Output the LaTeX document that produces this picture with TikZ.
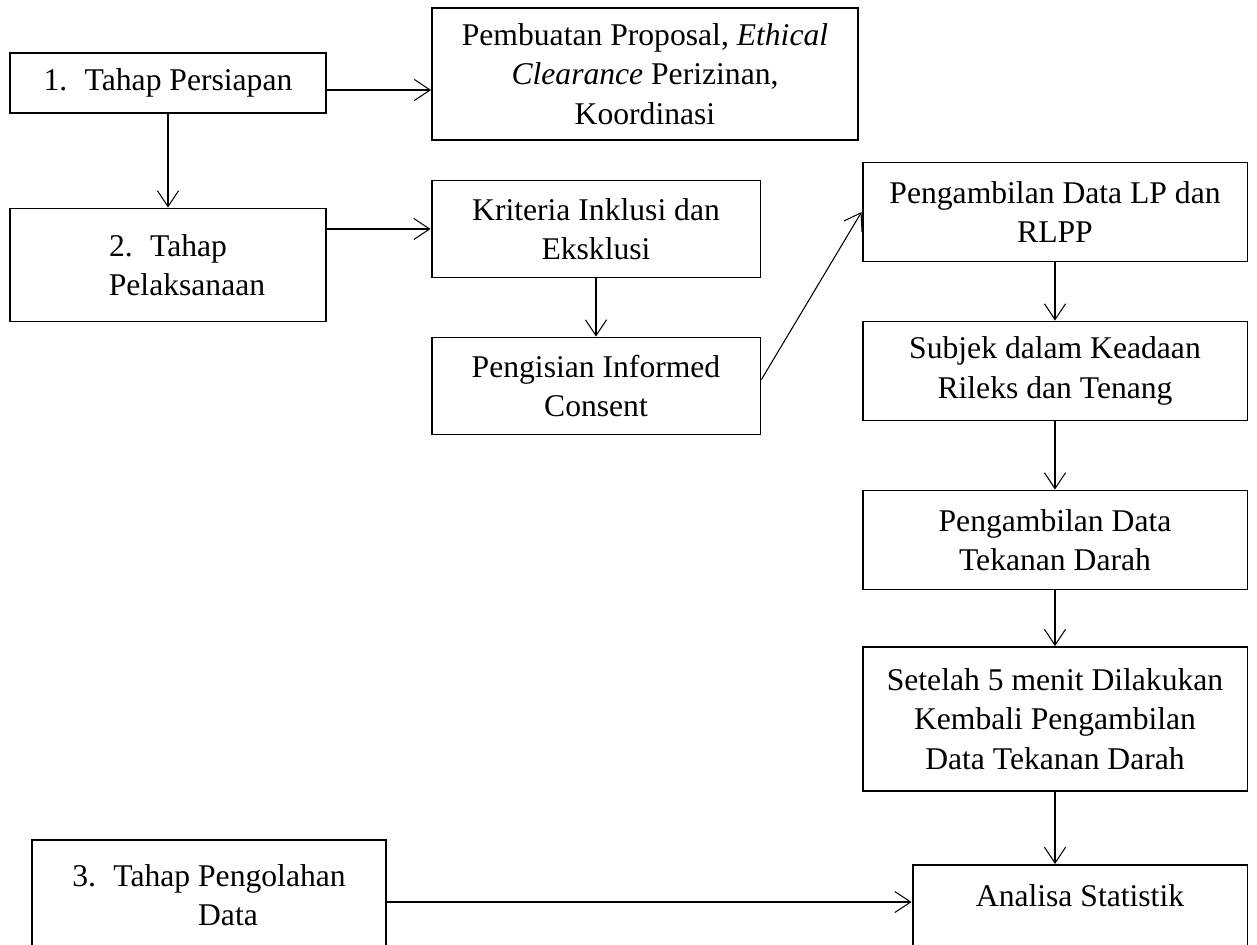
\documentclass[tikz,border=0pt]{standalone}
\usepackage{fontspec}
\setmainfont{Liberation Serif}
\usetikzlibrary{arrows.meta}

\begin{document}
\begin{tikzpicture}[x=0.02cm, y=-0.02cm,
    box/.style={draw, line width=1.1pt, align=center, inner sep=0pt,
                font=\fontsize{18}{22.5}\selectfont},
    arr/.style={-{Straight Barb[length=9pt,width=12pt]}, line width=0.6pt}]

\clip (0,0) rectangle (1257,945);

% --- Tahap Persiapan ---
\node[box, minimum width=6.32cm, minimum height=1.2cm] (persiapan) at (168,83)
    {1.\hspace{0.55em}Tahap Persiapan};
\node[box, minimum width=8.52cm, minimum height=2.64cm] (proposal) at (645,74)
    {Pembuatan Proposal, \textit{Ethical}\\ \textit{Clearance} Perizinan,\\ Koordinasi};

% --- Tahap Pelaksanaan ---
\node[box, minimum width=6.32cm, minimum height=2.26cm] (pelaksanaan) at (168,265)
    {2.\hspace{0.55em}Tahap\\ \hspace*{0.76cm}Pelaksanaan};
\node[box, minimum width=6.58cm, minimum height=1.94cm] (kriteria) at (596,229)
    {Kriteria Inklusi dan\\ Eksklusi};
\node[box, minimum width=6.58cm, minimum height=1.94cm] (consent) at (596,386)
    {Pengisian Informed\\ Consent};

% --- Pengambilan data ---
\node[box, minimum width=7.7cm, minimum height=1.98cm] (lprlpp) at (1055,212)
    {Pengambilan Data LP dan\\ RLPP};
\node[box, minimum width=7.7cm, minimum height=1.98cm] (rileks) at (1055,371)
    {Subjek dalam Keadaan\\ Rileks dan Tenang};
\node[box, minimum width=7.7cm, minimum height=1.98cm] (tekanan) at (1055,540)
    {Pengambilan Data\\ Tekanan Darah};
\node[box, minimum width=7.7cm, minimum height=2.88cm] (ulang) at (1055,719)
    {Setelah 5 menit Dilakukan\\ Kembali Pengambilan\\ Data Tekanan Darah};

% --- Tahap Pengolahan Data ---
\node[box, minimum width=7.08cm, minimum height=2.2cm] (pengolahan) at (209,895)
    {3.\hspace{0.55em}Tahap Pengolahan\\ \hspace*{0.76cm}Data};
\node[box, anchor=north, minimum width=6.7cm, inner ysep=0pt,
      text height=0.84cm, text depth=2cm] (analisa) at (1080,864)
    {Analisa Statistik};

% --- Arrows ---
\coordinate (p1) at ([yshift=-0.14cm]persiapan.east);
\draw[arr] (p1) -- (p1 -| proposal.west);
\draw[arr] (persiapan.south) -- (pelaksanaan.north);
\draw[arr] (pelaksanaan.east |- kriteria.west) -- (kriteria.west);
\draw[arr] (kriteria.south) -- (consent.north);
\draw[arr] ([yshift=0.13cm]consent.east) -- (lprlpp.west);
\draw[arr] (lprlpp.south) -- (rileks.north);
\draw[arr] (rileks.south) -- (tekanan.north);
\draw[arr] (tekanan.south) -- (ulang.north);
\draw[arr] (ulang.south) -- (ulang.south |- analisa.north);
\coordinate (p3) at ([yshift=-0.14cm]pengolahan.east);
\draw[arr] (p3) -- (p3 -| analisa.west);

\end{tikzpicture}
\end{document}
